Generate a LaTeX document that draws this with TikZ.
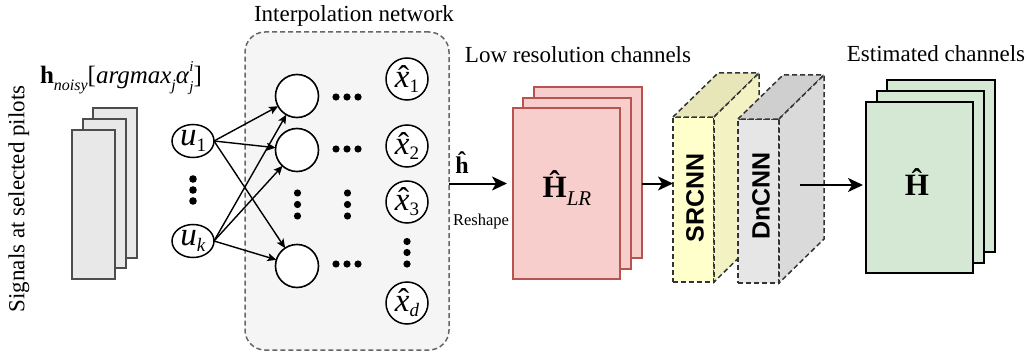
\documentclass[tikz,border=0pt]{standalone}
\usepackage{fontspec}
\setmainfont{Liberation Serif}
\newfontfamily\sansfont{Liberation Sans}
\usetikzlibrary{shapes.geometric,arrows.meta,calc}
\definecolor{lrfill}{HTML}{F8CECC}
\definecolor{lrline}{HTML}{B85450}
\definecolor{grfill}{HTML}{D5E8D4}
\definecolor{boxfill}{HTML}{F5F5F5}
\definecolor{boxline}{HTML}{666666}
\definecolor{srfront}{HTML}{FFFFCC}
\definecolor{srtop}{HTML}{E6E6B8}
\definecolor{srside}{HTML}{F2F2C2}
\definecolor{dnfront}{HTML}{E6E6E6}
\definecolor{dntop}{HTML}{CFCFCF}
\definecolor{dnside}{HTML}{DADADA}
\definecolor{pilotfill}{HTML}{E8E8E8}
\definecolor{pilotline}{HTML}{4D4D4D}
\definecolor{cubeline}{HTML}{333333}
\newcommand\fsz[1]{\fontsize{#1}{#1}\selectfont}
\newcommand\lowsub[2][17]{\raisebox{-0.28em}{\fsz{#1}#2}}
\newcommand\csub[1]{\raisebox{-0.17em}{\fsz{19}#1}}
\newcommand\xhat{\makebox[0pt][l]{\hspace{0.1em}\raisebox{-0.02em}{\char"02C6}}\textit{x}}
\newcommand\supsub[2]{\rlap{\raisebox{0.5em}{\fsz{15}#1}}\raisebox{-0.3em}{\fsz{15}#2}}
\begin{document}
\begin{tikzpicture}[x=1pt,y=-1pt,
  txt/.style={font=\fsz{23}, inner sep=0, outer sep=0},
  pilot/.style={draw=pilotline, fill=pilotfill, line width=1.6, inner sep=0, outer sep=0},
  lrsheet/.style={draw=lrline, fill=lrfill, line width=1.8, inner sep=0, outer sep=0, minimum width=107, minimum height=171},
  grsheet/.style={draw=black, fill=grfill, line width=1.8, inner sep=0, outer sep=0, minimum width=107, minimum height=171},
  unode/.style={ellipse, draw, fill=white, line width=1.5, minimum width=42, minimum height=33, inner sep=0, outer sep=0, font=\fsz{33}},
  hid/.style={circle, draw, fill=white, line width=1.6, minimum size=43, inner sep=0, outer sep=0},
  xnode/.style={circle, draw, fill=white, line width=1.5, minimum size=42, inner sep=0, outer sep=0, font=\fsz{33}},
  cubedash/.style={draw=cubeline, line width=1.5, dash pattern=on 5pt off 3pt},
  cubefront/.style={cubedash, inner sep=0, outer sep=0, minimum width=41, minimum height=165},
  net/.style={-{Stealth[length=9pt,width=8pt,inset=2pt]}, line width=1.4},
  big/.style={-{Stealth[length=15pt,width=14pt,inset=4pt]}, line width=2},
  dot/.style={fill=black}
]
\useasboundingbox (0,0) rectangle (1031,353);

% left stack: signals at selected pilots
\node[pilot, minimum width=44, minimum height=150] (pb) at (115,183) {};
\node[pilot, minimum width=43, minimum height=149] (pm) at (104.5,193.5) {};
\node[pilot, minimum width=43, minimum height=149] (pf) at (93.5,204.5) {};
\node[txt, rotate=90] (sig) at (19,199) {Signals at selected pilots};
\node[txt, anchor=base west, font=\fsz{25}] (hn) at (40,84)
  {\textbf{h}\lowsub[16]{\textit{noisy}}[\textit{argmax}\lowsub[16]{\textit{j}}\textit{α}\supsub{\textit{i}}{\textit{j}}]};

% interpolation network
\node[txt, anchor=base] (inttitle) at (354,22) {Interpolation network};
\node[draw=boxline, fill=boxfill, line width=1.5, dash pattern=on 5pt off 3pt, rounded corners=20pt,
      minimum width=204, minimum height=318, inner sep=0, outer sep=0] (interp) at (347,191) {};

\node[unode] (u1) at (193,141) {\textit{u}\csub{1}};
\node[unode] (uk) at (193,241) {\textit{u}\csub{\textit{k}}};
\foreach \yy in {179,190,201} \fill[dot] (193,\yy) circle (3.8);

\node[hid] (c1) at (297,96) {};
\node[hid] (c2) at (297,150) {};
\node[hid] (c4) at (297,266) {};

\foreach \yy in {97,149,264} {
  \foreach \xx in {336,347,358} \fill[dot] (\xx,\yy) circle (3.6);
}
\foreach \yy in {193,204.5,216} {
  \fill[dot] (297.5,\yy) circle (3.6);
  \fill[dot] (347.5,\yy) circle (3.6);
}

\node[xnode] (x1) at (407,79) {\xhat\csub{1}};
\node[xnode] (x2) at (407,146) {\xhat\csub{2}};
\node[xnode] (x3) at (407,202) {\xhat\csub{3}};
\node[xnode] (xd) at (407,303) {\xhat\csub{\textit{d}}};
\foreach \yy in {241.5,252.5,264} \fill[dot] (407,\yy) circle (3.6);

\draw[net] (u1.east) -- (c1);
\draw[net] (u1.east) -- (c2);
\draw[net] (u1.east) -- (c4);
\draw[net] (uk.east) -- (c1);
\draw[net] (uk.east) -- (c2);
\draw[net] (uk.east) -- (c4);

% low resolution channels
\node[txt, anchor=base] (lrtitle) at (578,63) {Low resolution channels};
\node[lrsheet, minimum width=108] (lrb) at (588,172.5) {};
\node[lrsheet, minimum width=108] (lrm) at (577,183.5) {};
\node[lrsheet] (lrf) at (566.5,193.5) {};
\node[txt, anchor=base, font=\fsz{31}] (lrlabel) at (567,197) {\textbf{Ĥ}\lowsub[21]{\textit{LR}}};

\draw[big] (interp.east |- lrm.east) -- ([xshift=-6pt]lrf.west |- lrm.east);
\node[txt, anchor=base, font=\bfseries\fsz{24}] (hhat) at (462,173) {ĥ};
\node[txt, anchor=base, font=\fsz{16.5}] (resh) at (481,225) {Reshape};

% SRCNN cube
\node[cubefront, fill=srfront] (sr) at (693.5,199.5) {};
\path[cubedash, fill=srtop] (sr.north west) -- ++(45,-44) -- ++(41,0) -- (sr.north east) -- cycle;
\path[cubedash, fill=srside] (sr.north east) -- ++(45,-44) -- ++(0,165) -- (sr.south east) -- cycle;
\node[txt, rotate=90, font=\sansfont\bfseries\fsz{25}] (srlabel) at (695,198) {SRCNN};

% DnCNN cube
\node[cubefront, fill=dnfront, minimum height=164] (dn) at (758.5,201) {};
\path[cubedash, fill=dntop] (dn.north west) -- ++(45,-44) -- ++(41,0) -- (dn.north east) -- cycle;
\path[cubedash, fill=dnside] (dn.north east) -- ++(45,-44) -- ++(0,164) -- (dn.south east) -- cycle;
\node[txt, rotate=90, font=\sansfont\bfseries\fsz{25}] (dnlabel) at (761,196) {DnCNN};

\draw[big] (lrb.east |- lrm.east) -- (sr.west |- lrm.east);

% estimated channels
\node[txt, anchor=base] (esttitle) at (936,62) {Estimated channels};
\node[grsheet, minimum width=108, minimum height=172] (gb) at (941,166) {};
\node[grsheet, minimum height=172] (gm) at (930.5,177) {};
\node[grsheet] (gf) at (919.5,187.5) {};
\node[txt, anchor=base, font=\fsz{31}] (glabel) at (917,195) {\textbf{Ĥ}};

\coordinate (dnout) at ($(dn.east)+(21,-16)$);
\draw[big] (dnout) -- ([xshift=-3pt]gf.west |- dnout);
\end{tikzpicture}
\end{document}
